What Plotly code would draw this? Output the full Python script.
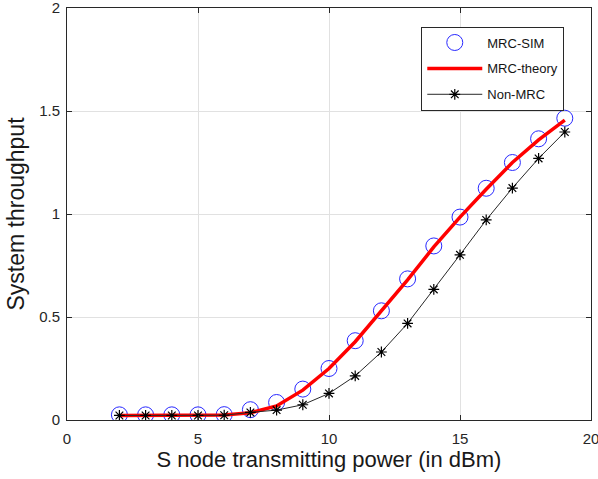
import plotly.graph_objects as go

power = [2, 3, 4, 5, 6, 7, 8, 9, 10, 11, 12, 13, 14, 15, 16, 17, 18, 19]
mrc_sim = [0.025, 0.025, 0.025, 0.025, 0.026, 0.05, 0.085, 0.15, 0.25, 0.385,
           0.53, 0.685, 0.845, 0.985, 1.125, 1.25, 1.365, 1.465]
mrc_theory = [0.022, 0.022, 0.022, 0.023, 0.024, 0.035, 0.068, 0.145, 0.25, 0.38,
              0.53, 0.68, 0.84, 0.985, 1.12, 1.25, 1.36, 1.456]
non_mrc = [0.022, 0.022, 0.022, 0.022, 0.023, 0.037, 0.048, 0.074, 0.129, 0.214,
           0.33, 0.469, 0.634, 0.802, 0.971, 1.126, 1.27, 1.398]

x_ticks = [0, 5, 10, 15, 20]
x_labels = ["0", "5", "10", "15", "20"]
y_ticks = [0, 0.5, 1, 1.5, 2]
y_labels = ["0", "0.5", "1", "1.5", "2"]

FONT = "Liberation Sans, Arial, sans-serif"

fig = go.Figure()
fig.add_trace(go.Scatter(
    x=power, y=mrc_sim, mode="markers", name="MRC-SIM", legendgroup="a",
    marker=dict(symbol="circle-open", size=16, color="rgb(40,40,255)",
                line=dict(width=1, color="rgb(40,40,255)"))))
fig.add_trace(go.Scatter(
    x=power, y=mrc_theory, mode="lines", name="MRC-theory", legendgroup="b",
    line=dict(color="rgb(255,0,0)", width=3.5)))
fig.add_trace(go.Scatter(
    x=power, y=non_mrc, mode="lines+markers", name="Non-MRC", legendgroup="c",
    line=dict(color="rgb(40,40,40)", width=1),
    marker=dict(symbol="asterisk-open", size=9, color="black",
                line=dict(width=1.2, color="black"))))

axis_common = dict(
    showgrid=True, gridcolor="rgb(225,225,225)", gridwidth=1,
    zeroline=False, showline=True, linecolor="rgb(40,40,40)", linewidth=1,
    mirror="ticks", ticks="inside", ticklen=5, tickcolor="rgb(40,40,40)",
    tickfont=dict(family=FONT, size=15, color="rgb(38,38,38)"),
    automargin=False, ticklabeloverflow="allow",
)

fig.update_xaxes(range=[0, 20], tickvals=x_ticks, ticktext=x_labels,
                 ticklabelstandoff=5,
                 title=dict(text="S node transmitting power (in dBm)",
                            font=dict(family=FONT, size=22, color="rgb(25,25,25)"),
                            standoff=4),
                 **axis_common)
fig.update_yaxes(range=[0, 2], tickvals=y_ticks, ticktext=y_labels,
                 ticklabelstandoff=3,
                 title=dict(text="System throughput",
                            font=dict(family=FONT, size=23, color="rgb(25,25,25)"),
                            standoff=8),
                 **axis_common)

fig.update_layout(
    width=598, height=479,
    margin=dict(l=67, r=7, t=8, b=59),
    plot_bgcolor="white", paper_bgcolor="white",
    showlegend=True,
    legend=dict(x=0.949, y=0.955, xanchor="right", yanchor="top",
                bgcolor="white", bordercolor="rgb(40,40,40)", borderwidth=1,
                font=dict(family=FONT, size=13, color="rgb(20,20,20)"),
                tracegroupgap=6, itemwidth=55),
)

fig.write_html(
    "out.html",
    config={"displayModeBar": False},
    post_script="document.body.style.margin='0';document.body.style.overflow='hidden';",
)
